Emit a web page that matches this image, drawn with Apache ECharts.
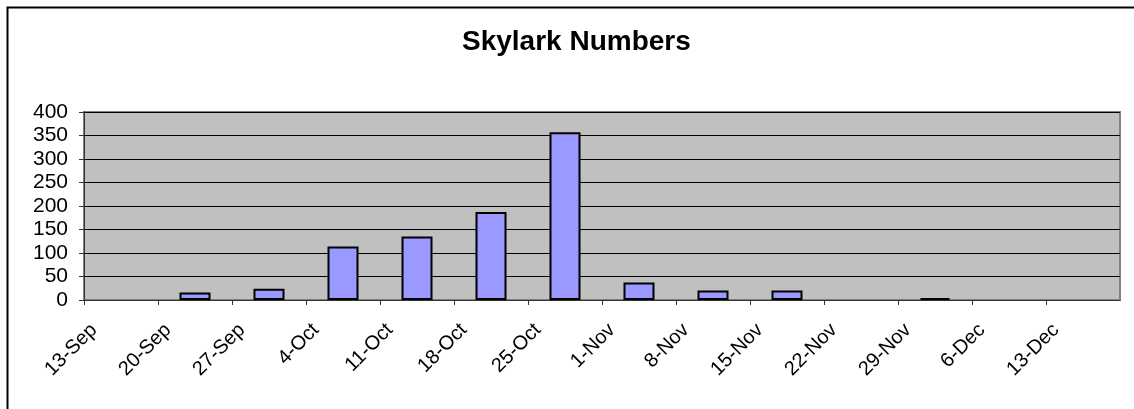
<!DOCTYPE html>
<html>
<head>
<meta charset="utf-8">
<title>Skylark Numbers</title>
<script src="https://cdn.jsdelivr.net/npm/echarts@6/dist/echarts.min.js"></script>
<style>
  html, body { margin: 0; padding: 0; background: #fff; }
  #chart { width: 1134px; height: 409px; }
</style>
</head>
<body>
<div id="chart"></div>
<script>
// week start dates (tick labels on the date axis)
const weeks = ['13-Sep', '20-Sep', '27-Sep', '4-Oct', '11-Oct', '18-Oct', '25-Oct',
  '1-Nov', '8-Nov', '15-Nov', '22-Nov', '29-Nov', '6-Dec', '13-Dec'];
// skylark counts per week (null = no record)
const counts = [null, 16, 24, 114, 135, 187, 357, 37, 20, 20, null, 4, null, null];
const yTicks = [0, 50, 100, 150, 200, 250, 300, 350, 400];

const font = 'Arial, "Liberation Sans", sans-serif';

// bars sit between the tick of their week and the next one
const barData = counts.map((v, i) => [i + 0.5, v]);

const chart = echarts.init(document.getElementById('chart'));

chart.setOption({
  animation: false,
  backgroundColor: '#fff',
  title: {
    text: 'Skylark Numbers',
    left: 457,
    top: 23,
    textStyle: { fontFamily: font, fontSize: 28, fontWeight: 'bold', color: '#000' }
  },
  graphic: [{
    // outer chart frame (only left/top edges are visible in the window)
    type: 'rect',
    shape: { x: 7.5, y: 7.5, width: 1200, height: 500 },
    style: { fill: 'none', stroke: '#000', lineWidth: 2 },
    silent: true
  }],
  grid: {
    left: 84,
    right: 14,
    top: 112,
    bottom: 109,
    show: true,
    backgroundColor: '#C0C0C0',
    borderColor: '#808080',
    borderWidth: 2
  },
  xAxis: {
    type: 'value',
    min: 0,
    max: weeks.length,
    interval: 1,
    splitLine: { show: false },
    axisLine: { show: true, lineStyle: { color: '#333', width: 1 } },
    axisTick: { show: true, length: 5, lineStyle: { color: '#333' } },
    axisLabel: {
      rotate: 45,
      margin: 10,
      verticalAlign: 'top',
      padding: [9, 5, 0, 0],
      fontFamily: font,
      fontSize: 20,
      color: '#000',
      showMaxLabel: false,
      formatter: v => weeks[v] || ''
    }
  },
  yAxis: {
    type: 'value',
    min: yTicks[0],
    max: yTicks[yTicks.length - 1],
    interval: yTicks[1] - yTicks[0],
    axisLine: { show: true, lineStyle: { color: '#333', width: 1 } },
    axisTick: { show: true, length: 5, lineStyle: { color: '#333' } },
    splitLine: { show: true, lineStyle: { color: '#000', width: 1 } },
    axisLabel: { margin: 16, fontFamily: font, fontSize: 21, color: '#000' }
  },
  series: [{
    type: 'bar',
    data: barData,
    barWidth: 31,
    itemStyle: { color: '#9999FF', borderColor: '#000', borderWidth: 2 }
  }]
});
</script>
</body>
</html>
